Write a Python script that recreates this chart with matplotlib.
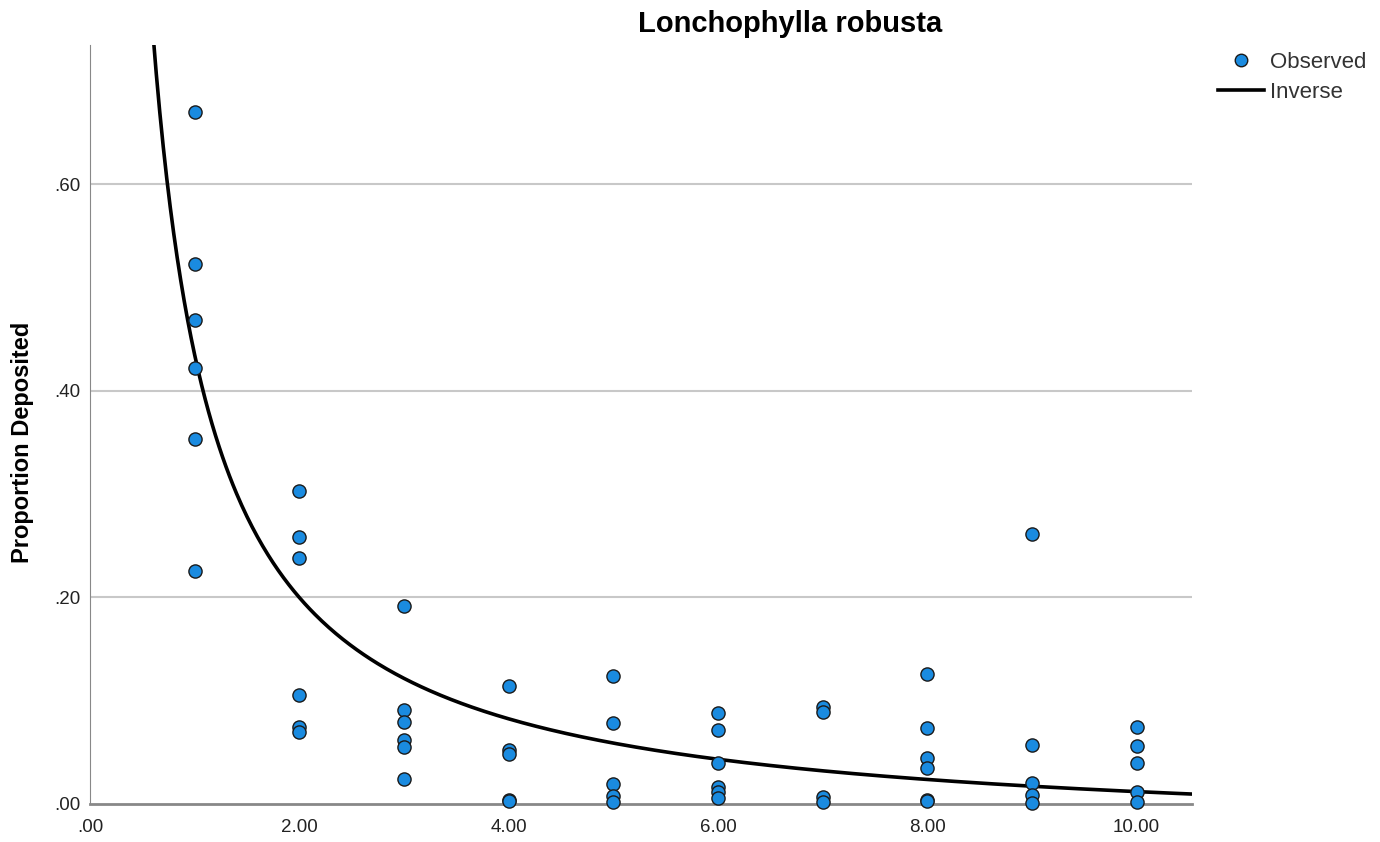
import numpy as np
import matplotlib
matplotlib.use("Agg")
import matplotlib.pyplot as plt
from matplotlib.lines import Line2D
from matplotlib.ticker import FuncFormatter

plt.rcParams['font.family'] = ['Liberation Sans', 'DejaVu Sans']

# Observed data (distance vs proportion deposited)
x_obs = [1]*6 + [2]*6 + [3]*6 + [4]*5 + [5]*5 + [6]*6 + [7]*4 + [8]*6 + [9]*5 + [10]*5
y_obs = [0.670, 0.523, 0.469, 0.422, 0.353, 0.226,
         0.303, 0.259, 0.238, 0.106, 0.0745, 0.070,
         0.192, 0.091, 0.079, 0.062, 0.055, 0.024,
         0.114, 0.052, 0.048, 0.004, 0.003,
         0.124, 0.078, 0.019, 0.008, 0.002,
         0.088, 0.072, 0.040, 0.016, 0.012, 0.006,
         0.094, 0.089, 0.007, 0.002,
         0.126, 0.074, 0.045, 0.035, 0.004, 0.003,
         0.261, 0.057, 0.020, 0.009, 0.001,
         0.075, 0.056, 0.040, 0.012, 0.002]

# Inverse model coefficients: y = b0 + b1 / x
b0 = -0.035
b1 = 0.470

x_ticks = [0, 2, 4, 6, 8, 10]
y_ticks = [0.0, 0.2, 0.4, 0.6]

W, H = 1380, 842
fig = plt.figure(figsize=(W/100, H/100), dpi=100)
ax = fig.add_axes([90/W, 1-804/H, (1192-90)/W, (804-45)/H])

xmin, xmax = 0, 10.53
ymin, ymax = 0, 0.735
ax.set_xlim(xmin, xmax)
ax.set_ylim(ymin, ymax)

for yt in y_ticks[1:]:
    ax.axhline(yt, color='#c8c8c8', lw=1.5, zorder=1)

xc = np.linspace(0.55, xmax, 600)
ax.plot(xc, b0 + b1/xc, color='black', lw=2.6, zorder=3, clip_on=True)

mcol = '#1a8be0'
ax.scatter(x_obs, y_obs, s=90, color=mcol, edgecolors='#1a1a1a', linewidths=1.0, zorder=4, clip_on=False)

for s in ['top', 'right']:
    ax.spines[s].set_visible(False)
ax.spines['left'].set_color('#888888')
ax.spines['left'].set_linewidth(0.8)
ax.spines['bottom'].set_color('#888888')
ax.spines['bottom'].set_linewidth(2.0)

def fmt(v, pos):
    s = f"{v:.2f}"
    if s.startswith("0."):
        s = s[1:]
    return s

ax.set_xticks(x_ticks)
ax.set_yticks(y_ticks)
ax.xaxis.set_major_formatter(FuncFormatter(fmt))
ax.yaxis.set_major_formatter(FuncFormatter(fmt))
ax.tick_params(axis='both', length=0, labelsize=13.5, colors='#222222')
ax.tick_params(axis='y', pad=7)
ax.tick_params(axis='x', pad=11)

fig.text(790/W, 1-24/H, 'Lonchophylla robusta', ha='center', va='center',
         fontsize=21, fontweight='bold')
fig.text(23/W, 1-442/H, 'Proportion Deposited', rotation=90, ha='center', va='center',
         fontsize=17, fontweight='bold')

# Legend
fig.add_artist(Line2D([1241/W], [1-60/H], marker='o', markersize=9, color=mcol,
                      markeredgecolor='#1a1a1a', markeredgewidth=1.0, linestyle='none'))
fig.text(1270/W, 1-62/H, 'Observed', ha='left', va='center', fontsize=16, color='#333333')
fig.add_artist(Line2D([1218/W, 1264/W], [1-90/H, 1-90/H], color='black', lw=2.6))
fig.text(1270/W, 1-93/H, 'Inverse', ha='left', va='center', fontsize=16, color='#333333')

fig.savefig('out.png', dpi=100, facecolor='white')
